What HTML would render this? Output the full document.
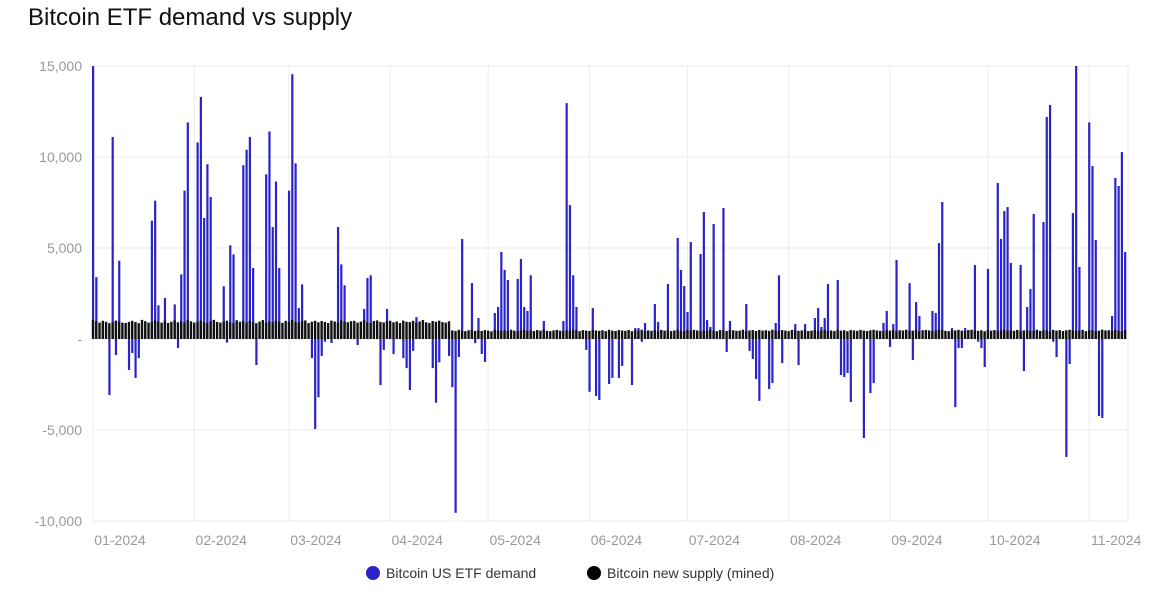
<!DOCTYPE html>
<html><head><meta charset="utf-8"><style>
body{margin:0;background:#fff;width:1156px;height:594px;overflow:hidden;font-family:"Liberation Sans",sans-serif}
#title{position:absolute;left:28px;top:4px;font-size:24px;color:#111}
</style></head><body>
<div id="title">Bitcoin ETF demand vs supply</div>
<svg id="chart" width="1156" height="594" style="position:absolute;left:0;top:0"></svg>
<script>
const demandDays=[0,1,5,6,7,8,11,12,13,14,18,19,20,22,25,26,27,28,29,32,33,34,35,36,40,41,42,43,46,47,48,49,50,53,54,55,56,57,60,61,62,63,64,67,68,69,70,71,73,75,76,77,81,83,84,85,88,89,90,92,95,96,97,98,99,102,104,105,106,109,110,111,112,113,116,117,118,119,120,123,124,125,126,127,130,131,132,133,134,138,144,145,146,147,148,151,152,153,154,155,158,159,161,162,165,166,167,168,169,172,173,176,179,180,181,182,183,186,187,188,189,190,193,194,195,200,201,202,203,204,207,208,209,210,211,215,216,218,221,222,223,224,225,228,229,230,231,232,236,238,239,242,243,244,245,246,250,251,252,253,257,258,259,260,263,264,265,266,267,270,271,272,273,274,277,278,279,280,281,284,285,286,287,288,291,292,293,294,295,298,299,300,301,302,305,306,307,308,309,312,313,314,315,316];
const demandVals=[15000,3400,-3080,11100,-880,4300,-1700,-770,-2140,-1050,6500,7600,1850,2250,1900,-500,3550,8150,11900,10800,13300,6650,9600,7800,2900,-200,5150,4650,9550,10400,11100,3900,-1430,9050,11400,6150,8650,3900,8150,14550,9650,1700,3000,-1050,-4950,-3200,-930,-150,-220,6150,4100,2950,-330,1650,3350,3500,-2530,-600,1650,-830,-1050,-1600,-2800,-650,1200,770,-1600,-3500,-1280,-930,-2650,-9550,-990,5500,3070,-230,1150,-820,-1260,1430,1760,4780,3800,3240,3300,4400,1760,1540,3500,990,990,12960,7360,3500,1760,-600,-2900,1700,-3130,-3350,-2470,-2140,-2140,-1480,-2530,600,600,-150,880,1920,940,3020,5550,3790,2910,1480,5330,4670,6980,1040,660,6320,7200,-710,990,1920,-660,-1100,-2200,-3400,-2750,-2420,880,3500,-1320,820,-1430,820,1150,1700,660,1150,3020,3240,-1980,-2090,-1870,-3460,-5440,-2970,-2420,880,1540,-440,820,4340,3070,-1150,2030,1260,1540,1430,5270,7530,600,-3740,-500,-500,600,4070,-150,-500,-1540,3850,8570,5500,7030,7250,4180,4070,-1760,1760,2750,6870,6430,12200,12860,-150,-990,-6480,-1370,6920,15000,3960,11900,9500,5440,-4230,-4340,1260,8850,8410,10270,4780];
const supplyVals=[1050,980,900,1000,950,870,920,1010,960,900,
880,940,1000,930,870,1050,980,900,940,1020,
960,900,1000,880,950,1030,920,980,900,1040,
970,900,950,1010,930,880,990,1050,940,900,
960,1000,920,880,1030,950,990,910,1000,930,
870,960,1040,900,980,920,1010,950,890,1000,
940,1060,930,900,980,1020,880,950,1000,920,
990,940,880,1010,960,900,1030,950,920,980,
1000,900,960,1050,930,880,990,1020,940,910,
980,1000,920,960,880,1010,950,930,1000,900,
960,1040,920,880,990,950,1010,930,900,970,
470,440,500,460,430,480,510,450,470,440,
490,460,420,500,470,450,480,440,510,460,
430,480,500,450,470,440,490,460,510,450,
430,470,500,460,440,480,450,510,470,430,
490,460,440,500,470,450,480,430,510,460,
440,490,470,450,500,430,480,460,510,440,
470,450,490,430,500,460,480,440,470,510,
450,430,490,460,500,470,440,480,450,510,
460,430,490,470,440,500,480,450,460,510,
430,470,490,440,500,460,480,450,510,470,
440,490,460,430,500,480,450,470,510,440,
460,490,430,480,500,450,470,440,510,460,
480,430,490,470,450,500,460,440,480,510,
470,450,430,490,460,500,440,480,470,510,
450,460,490,430,480,500,470,440,460,510,
490,450,430,480,470,500,460,440,490,510,
470,450,480,430,500,460,490,440,470,510,
460,480,450,500,430,470,490,440,460,510,
450,480,470,430,500,460,490,440,480,510,
470,450,460,500,430,480,490,440,460,510,
470,480,450,500,460,430,490];
const yTicks=[15000,10000,5000,0,-5000,-10000];
const yTickLabels=["15,000","10,000","5,000","-","-5,000","-10,000"];
const monthStartDays=[0,31,60,91,121,152,182,213,244,274,305];
const monthLabels=["01-2024","02-2024","03-2024","04-2024","05-2024","06-2024","07-2024","08-2024","09-2024","10-2024","11-2024"];

const NS="http://www.w3.org/2000/svg";
const svg=document.getElementById('chart');
const X0=93,X1=1128,PX=3.266,YT=66,YB=521,VMAX=15000,VMIN=-10000;
function xs(d){return X0+d*PX;}
function ys(v){return YT+(VMAX-v)*(YB-YT)/(VMAX-VMIN);}
function mk(tag,at){const e=document.createElementNS(NS,tag);for(const k in at)e.setAttribute(k,at[k]);svg.appendChild(e);return e;}

yTicks.forEach((v,i)=>{
  const g=mk('line',{x1:X0,x2:X1,y1:ys(v),y2:ys(v),stroke:'#ececec','stroke-width':1});
  
  
  const t=mk('text',{x:82,y:ys(v)+5,'text-anchor':'end','font-size':14,fill:'#9a9a9a'});
  t.textContent=yTickLabels[i];
  
  
});
monthStartDays.forEach((d,i)=>{
  const g=mk('line',{x1:xs(d),x2:xs(d),y1:YT,y2:YB,stroke:'#ececec','stroke-width':1});
  
  
  const t=mk('text',{x:xs(d)+27,y:545,'text-anchor':'middle','font-size':14,fill:'#9a9a9a'});
  t.textContent=monthLabels[i];
  
  
});
const rb=mk('line',{x1:X1,x2:X1,y1:YT,y2:YB,stroke:'#ececec','stroke-width':1});



demandDays.forEach((d,i)=>{
  const v=demandVals[i];
  const y0=ys(0),y1=ys(v);
  const r=mk('rect',{x:xs(d)-1,y:Math.min(y0,y1),width:2.2,height:Math.max(1,Math.abs(y1-y0)),fill:'#2a23c8'});
  
  
});
supplyVals.forEach((v,i)=>{
  const y0=ys(0),y1=ys(v);
  const r=mk('rect',{x:xs(i)-1.2,y:y1,width:2.4,height:y0-y1,fill:'#111'});
  
  
});

const c1=mk('circle',{cx:373,cy:573,r:7,fill:'#2a23c8'});


const t1=mk('text',{x:386,y:578,'font-size':14,fill:'#333'});t1.textContent='Bitcoin US ETF demand';


const c2=mk('circle',{cx:594,cy:573,r:7,fill:'#000'});


const t2=mk('text',{x:607,y:578,'font-size':14,fill:'#333'});t2.textContent='Bitcoin new supply (mined)';


</script>
</body></html>
